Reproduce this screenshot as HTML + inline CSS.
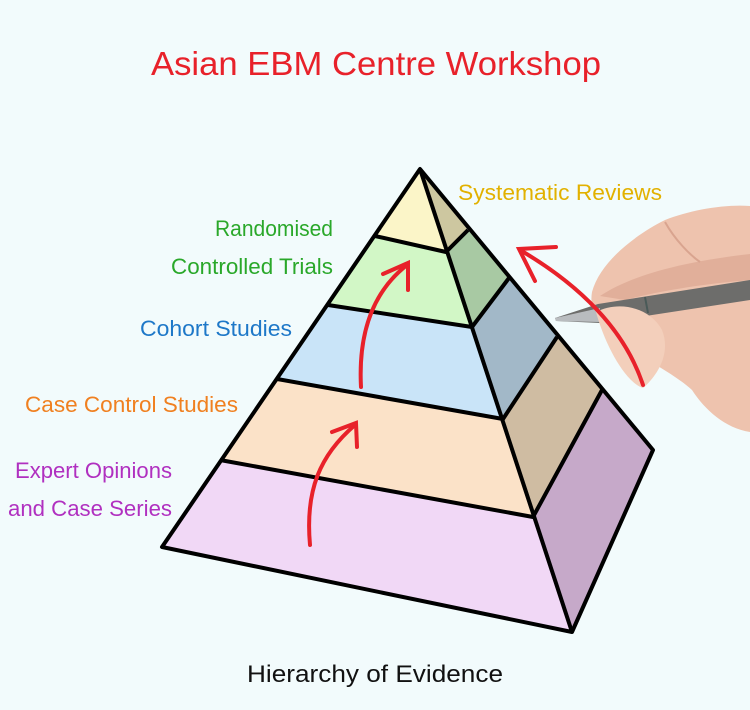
<!DOCTYPE html>
<html><head><meta charset="utf-8"><style>
html,body{margin:0;padding:0;background:#f2fbfc;}
svg{display:block}
text{font-family:"Liberation Sans",sans-serif;}
</style></head><body>
<svg width="750" height="710" viewBox="0 0 750 710" xmlns="http://www.w3.org/2000/svg">
<rect width="750" height="710" fill="#f2fbfc"/>
<text x="376" y="75" text-anchor="middle" font-size="33" fill="#e8212a" textLength="450" lengthAdjust="spacingAndGlyphs">Asian EBM Centre Workshop</text>

<!-- hand -->
<path d="M592 292 C600 262 635 235 665 220 C690 210 725 204 750 206 L750 432 C725 428 705 410 692 390 C672 372 645 360 625 345 C605 333 588 315 592 292 Z" fill="#eec3ae"/>
<path d="M600 296 C630 276 680 262 750 254 L750 280 C700 284 655 292 625 300 Z" fill="#dba792" opacity="0.7"/>
<path d="M665 222 C675 240 690 255 700 262" stroke="#d9a48f" stroke-width="2" fill="none"/>
<path d="M555 318 L598 304 L750 280 L750 300 L600 323 L556 321 Z" fill="#6d6d6b"/>
<path d="M555 318 L600 308 L600 322 L556 321 Z" fill="#b9bcbf"/>
<path d="M645 297 L648 313" stroke="#4a5a58" stroke-width="2"/>
<path d="M596 312 C620 300 650 308 662 330 C672 355 655 378 643 388 C625 382 605 345 596 312 Z" fill="#f3cfbb"/>

<!-- front face layers -->
<polygon points="420,169 375,236 446,252" fill="#fbf5c8"/>
<polygon points="375,236 446,252 472,327 328,305" fill="#d2f7c6"/>
<polygon points="328,305 472,327 503,419 277,379" fill="#c9e4f8"/>
<polygon points="277,379 503,419 533,517 220,460" fill="#fbe2c8"/>
<polygon points="220,460 533,517 572,632 162,547" fill="#f1d8f6"/>
<!-- right face -->
<polygon points="420,169 468,230 446,252" fill="#cdc7a0"/>
<polygon points="468,230 509,278 472,327 446,252" fill="#a8c9a3"/>
<polygon points="509,278 557,337 503,419 472,327" fill="#a2b8c8"/>
<polygon points="557,337 602,390 533,517 503,419" fill="#cfbca2"/>
<polygon points="602,390 653,450 572,632 533,517" fill="#c6a9c9"/>

<g stroke="#000" stroke-width="4" fill="none" stroke-linejoin="round">
<polygon points="420,169 162,547 572,632 653,450"/>
<line x1="420" y1="169" x2="572" y2="632"/>
<polyline points="375,236 446,252 468,230"/>
<polyline points="328,305 472,327 509,278"/>
<polyline points="277,379 503,419 557,337"/>
<polyline points="220,460 533,517 602,390"/>
</g>

<!-- red arrows -->
<g stroke="#e8212a" stroke-width="4" fill="none" stroke-linecap="round">
<path d="M310 545 C305 490 320 455 355 425"/>
<path d="M332 432 L356 423 L357 447"/>
<path d="M361 387 C358 330 375 290 407 265"/>
<path d="M383 274 L408 263 L408 290"/>
<path d="M643 385 C625 330 580 285 520 250"/>
<path d="M556 247 L519 249 L535 281"/>
</g>

<!-- labels -->
<text x="458" y="200" font-size="22" fill="#e2b100" textLength="204" lengthAdjust="spacingAndGlyphs">Systematic Reviews</text>
<text x="333" y="236" font-size="22" fill="#2aa82a" text-anchor="end" textLength="118" lengthAdjust="spacingAndGlyphs">Randomised</text>
<text x="333" y="274" font-size="22" fill="#2aa82a" text-anchor="end" textLength="162" lengthAdjust="spacingAndGlyphs">Controlled Trials</text>
<text x="292" y="336" font-size="22" fill="#1e78c8" text-anchor="end" textLength="152" lengthAdjust="spacingAndGlyphs">Cohort Studies</text>
<text x="238" y="412" font-size="22" fill="#f08020" text-anchor="end" textLength="213" lengthAdjust="spacingAndGlyphs">Case Control Studies</text>
<text x="172" y="478" font-size="22" fill="#b030c0" text-anchor="end" textLength="157" lengthAdjust="spacingAndGlyphs">Expert Opinions</text>
<text x="172" y="516" font-size="22" fill="#b030c0" text-anchor="end" textLength="164" lengthAdjust="spacingAndGlyphs">and Case Series</text>
<text x="375" y="682" font-size="24" fill="#111" text-anchor="middle" textLength="256" lengthAdjust="spacingAndGlyphs">Hierarchy of Evidence</text>
</svg>
</body></html>
